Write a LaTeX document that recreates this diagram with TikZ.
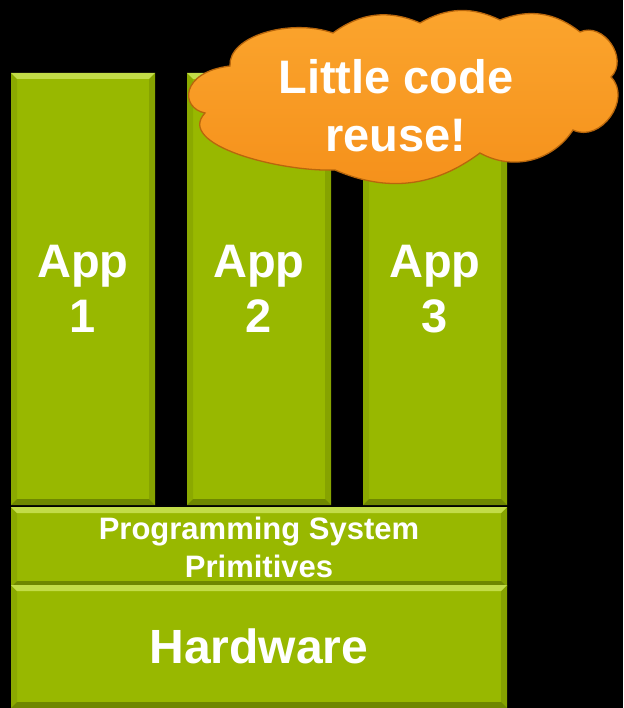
\documentclass[tikz,border=0pt]{standalone}
\usepackage{fontspec}
\setmainfont{Liberation Sans}
\definecolor{grn}{HTML}{98B800}
\definecolor{grnlt}{HTML}{C2DC48}
\definecolor{grndk}{HTML}{6E8700}
\definecolor{grnmd}{HTML}{86A300}
\definecolor{org}{HTML}{F5901A}
\definecolor{orglt}{HTML}{FBA52E}
\definecolor{orgdk}{HTML}{B8660C}
\begin{document}
\begin{tikzpicture}[x=1pt,y=-1pt,
  layerbox/.style={rectangle, fill=grn, inner sep=0pt, outer sep=0pt,
    text=white, font=\bfseries, align=center,
    path picture={
      \coordinate (nw) at (path picture bounding box.north west);
      \coordinate (ne) at (path picture bounding box.north east);
      \coordinate (sw) at (path picture bounding box.south west);
      \coordinate (se) at (path picture bounding box.south east);
      \fill[grnmd] (ne) -- (se) -- ([shift={(-6pt,6pt)}]se) -- ([shift={(-6pt,-6pt)}]ne) -- cycle;
      \fill[grnmd!70!grn] (nw) -- (sw) -- ([shift={(6pt,6pt)}]sw) -- ([shift={(6pt,-6pt)}]nw) -- cycle;
      \fill[grnlt] (nw) -- (ne) -- ([shift={(-6pt,-6pt)}]ne) -- ([shift={(6pt,-6pt)}]nw) -- cycle;
      \fill[grndk] (sw) -- (se) -- ([shift={(-6pt,6pt)}]se) -- ([shift={(6pt,6pt)}]sw) -- cycle;
    }},
  bigtxt/.style={font=\fontsize{47}{55}\selectfont\bfseries},
  cloudshape/.style={top color=orglt, bottom color=org, draw=orgdk, line width=1.3pt},
  cloudtxt/.style={text=white, align=center, inner sep=0pt,
    font=\fontsize{47}{58}\selectfont\bfseries}
]
\fill[black] (0,0) rectangle (623,708);
\useasboundingbox (0,0) rectangle (623,708);
\node[layerbox, bigtxt, minimum width=144pt, minimum height=432pt] (app1) at (83,289) {App\\1};
\node[layerbox, bigtxt, minimum width=144pt, minimum height=432pt] (app2) at (259,289) {App\\2};
\node[layerbox, bigtxt, minimum width=144pt, minimum height=432pt] (app3) at (435,289) {App\\3};
\node[layerbox, font=\fontsize{31}{38}\selectfont\bfseries, minimum width=496pt, minimum height=80pt] (psp) at (259,547) {Programming System\\Primitives};
\node[layerbox, font=\fontsize{48}{56}\selectfont\bfseries, minimum width=496pt, minimum height=123pt] (hw) at (259,646.5) {\raisebox{-4pt}{Hardware}};
% cloud
\path[cloudshape]
  (230,66) .. controls (228,36) and (290,18) .. (333,33)
  to[bend left=30] (420,23)
  to[bend left=28] (500,20)
  to[bend left=30] (580,32)
  to[bend left=80, looseness=1.2] (611,77)
  to[bend left=80, looseness=1.2] (573,130)
  to[bend left=43] (480,153)
  to[bend left=30] (335,170)
  .. controls (280,172) and (175,145) .. (205,113)
  .. controls (180,108) and (180,72) .. cycle;
\node[cloudtxt] (cl) at (396,106) {Little code\\reuse!};
\end{tikzpicture}
\end{document}
